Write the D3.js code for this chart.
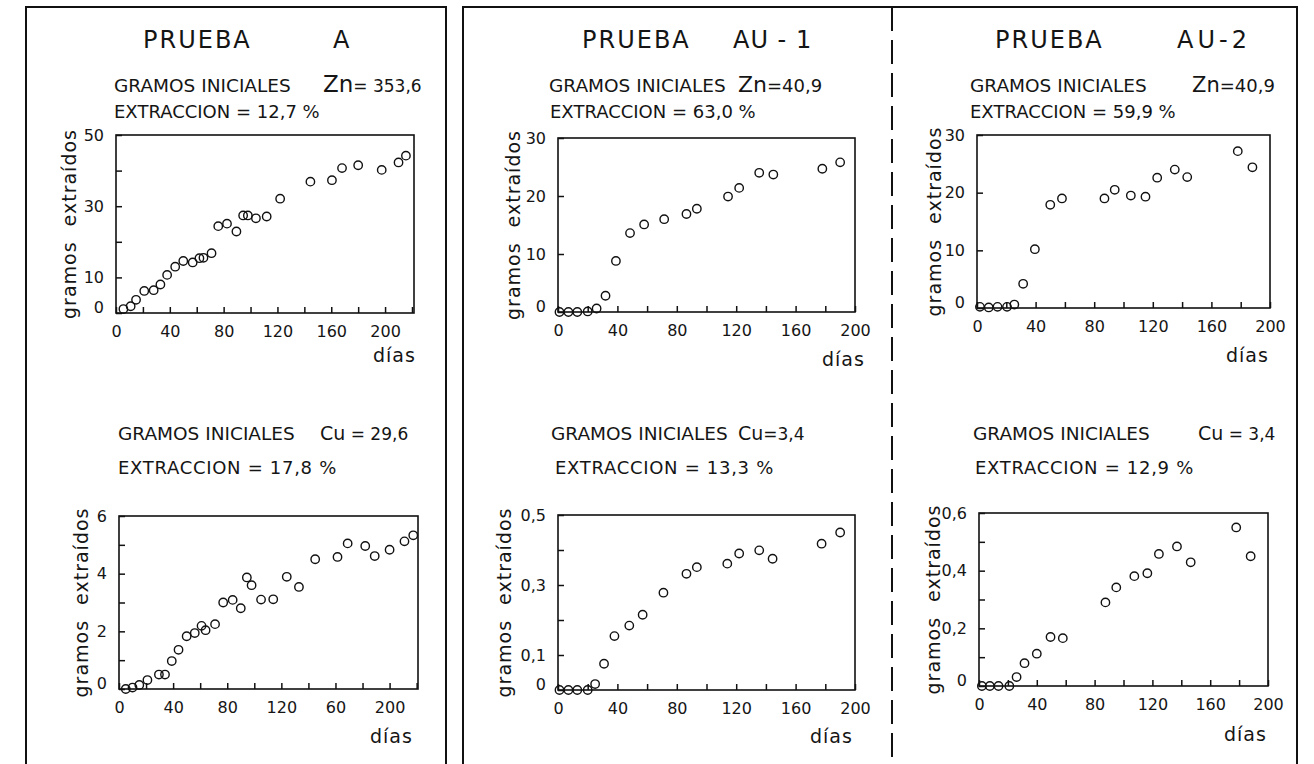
<!DOCTYPE html>
<html>
<head>
<meta charset="utf-8">
<script src="https://cdn.jsdelivr.net/npm/d3@7"></script>
<style>
  body { margin: 0; background: #fff; }
  svg text { font-family: "DejaVu Sans", sans-serif; fill: #151515; }
</style>
</head>
<body>
<svg id="chart" width="1314" height="764"></svg>
<script>
// ---- data (días, gramos extraídos) ----
const znA_dias = [5.5, 10.9, 14.9, 21, 28, 33, 38, 44, 50, 57, 62, 65, 71, 76, 82.5, 89.5, 94.5, 98, 104, 112, 122, 144.5, 160.5, 168, 180, 197.5, 210, 215.5];
const znA_g    = [1.1, 1.9, 3.7, 6.2, 6.4, 8.0, 10.7, 13.0, 14.6, 14.2, 15.4, 15.5, 16.8, 24.4, 25.1, 22.9, 27.4, 27.4, 26.6, 27.1, 32.1, 36.9, 37.3, 40.7, 41.5, 40.2, 42.3, 44.2];

const cuA_dias = [5, 10, 15, 21, 29.5, 34, 39, 44, 50, 56, 61, 64, 71, 77, 84, 90, 94.5, 98, 105, 114, 124, 133, 145, 161.5, 169, 182, 189, 200, 211, 217.5];
const cuA_g    = [0, 0.05, 0.14, 0.31, 0.5, 0.5, 0.97, 1.36, 1.83, 1.94, 2.19, 2.04, 2.25, 3.0, 3.09, 2.8, 3.87, 3.6, 3.1, 3.11, 3.89, 3.54, 4.5, 4.58, 5.05, 4.96, 4.61, 4.83, 5.12, 5.33];

const znAU1_dias = [1, 7, 13, 20, 26, 32, 39, 48.5, 58, 71.5, 86.5, 93.5, 114.5, 122, 135.5, 145, 178, 190];
const znAU1_g    = [0, 0, 0, 0.1, 0.6, 2.8, 8.8, 13.6, 15.1, 16.0, 16.9, 17.8, 19.9, 21.4, 24.0, 23.7, 24.7, 25.8];

const cuAU1_dias = [1, 7, 13, 20, 25, 31, 38, 48, 57, 71, 86.5, 93.5, 114, 122, 135.5, 144.5, 177.5, 190];
const cuAU1_g    = [0, 0, 0, 0, 0.017, 0.075, 0.154, 0.184, 0.215, 0.278, 0.332, 0.351, 0.361, 0.39, 0.399, 0.375, 0.418, 0.45];

const znAU2_dias = [2, 8, 14, 20.5, 25.5, 31.5, 39.5, 50, 58, 87, 94, 105, 115, 123, 135, 143.5, 178, 188];
const znAU2_g    = [0.2, 0.1, 0.2, 0.2, 0.6, 4.2, 10.2, 17.9, 19.0, 19.0, 20.5, 19.5, 19.3, 22.6, 24.0, 22.7, 27.2, 24.4];

const cuAU2_dias = [2, 7.5, 13.5, 21, 26, 31.5, 40, 49.5, 58, 87.5, 95, 107.5, 116.5, 124.5, 137, 146.5, 178, 188];
const cuAU2_g    = [0, 0, 0, 0, 0.031, 0.079, 0.112, 0.17, 0.166, 0.29, 0.342, 0.381, 0.391, 0.458, 0.484, 0.429, 0.55, 0.45];

// tick labels
const xTickVals   = [0, 40, 80, 120, 160, 200];
const xTickText   = ['0', '40', '80', '120', '160', '200'];
const xTickTextCuA = ['0', '40', '80', '120', '60', '200'];   // as printed
const yLabZnA  = [0, 10, 30, 50];
const yLabZnAU = [0, 10, 20, 30];
const yLabCuA  = [0, 2, 4, 6];
const yLabCuAU1 = [0, 0.1, 0.3, 0.5];
const yLabCuAU2 = [0, 0.2, 0.4, 0.6];

// ---- layout ----
const svg = d3.select('#chart');

const panels = [
  { l: 116, r: 414, t: 135, b: 313, xMax: 221.5, yMax: 50,  yStep: 10,  yLab: yLabZnA,  xs: znA_dias,  ys: znA_g,  xText: xTickText,    gx: 70,  diasX: 373, diasY: 362 },
  { l: 119, r: 418, t: 516, b: 689, xMax: 221,   yMax: 6,   yStep: 1,   yLab: yLabCuA,  xs: cuA_dias,  ys: cuA_g,  xText: xTickTextCuA, gx: 82,  diasX: 370, diasY: 743 },
  { l: 558, r: 855, t: 138, b: 312, xMax: 200,   yMax: 30,  yStep: 10,  yLab: yLabZnAU, xs: znAU1_dias, ys: znAU1_g, xText: xTickText,  gx: 514, diasX: 822, diasY: 366 },
  { l: 558, r: 855, t: 515, b: 690, xMax: 200,   yMax: 0.5, yStep: 0.1, yLab: yLabCuAU1, xs: cuAU1_dias, ys: cuAU1_g, xText: xTickText, gx: 505, diasX: 810, diasY: 743 },
  { l: 977, r: 1270, t: 135, b: 308, xMax: 200,  yMax: 30,  yStep: 10,  yLab: yLabZnAU, xs: znAU2_dias, ys: znAU2_g, xText: xTickText,  gx: 935, diasX: 1226, diasY: 362 },
  { l: 979, r: 1268, t: 513, b: 686, xMax: 200,  yMax: 0.6, yStep: 0.1, yLab: yLabCuAU2, xs: cuAU2_dias, ys: cuAU2_g, xText: xTickText, gx: 934, diasX: 1224, diasY: 741 }
];

// frames
svg.append('path').attr('d', 'M26,770V7H446V770')
  .attr('fill', 'none').attr('stroke', '#111').attr('stroke-width', 2);
svg.append('path').attr('d', 'M463,770V7H1297V770')
  .attr('fill', 'none').attr('stroke', '#111').attr('stroke-width', 2);
svg.append('line').attr('x1', 892).attr('x2', 892).attr('y1', 7).attr('y2', 764)
  .attr('stroke', '#111').attr('stroke-width', 2).attr('stroke-dasharray', '24,9');

// headers
const headers = [
  { x: 143, y: 48, size: 24, ls: 2, text: 'PRUEBA' },
  { x: 333, y: 48, size: 24, ls: 2, text: 'A' },
  { x: 582, y: 48, size: 24, ls: 2, text: 'PRUEBA' },
  { x: 733, y: 48, size: 24, ls: 1, text: 'AU - 1' },
  { x: 995, y: 48, size: 24, ls: 2, text: 'PRUEBA' },
  { x: 1177, y: 48, size: 24, ls: 4, text: 'AU-2' },

  { x: 114, y: 92, size: 18.5, ls: 0, text: 'GRAMOS INICIALES' },
  { x: 549, y: 92, size: 18.5, ls: 0, text: 'GRAMOS INICIALES' },
  { x: 970, y: 92, size: 18.5, ls: 0, text: 'GRAMOS INICIALES' },
  { x: 114, y: 118, size: 18, ls: 0, text: 'EXTRACCION = 12,7 %' },
  { x: 550, y: 118, size: 18, ls: 0, text: 'EXTRACCION = 63,0 %' },
  { x: 970, y: 118, size: 18, ls: 0, text: 'EXTRACCION = 59,9 %' },

  { x: 118, y: 440, size: 18.5, ls: 0, text: 'GRAMOS INICIALES' },
  { x: 551, y: 440, size: 18.5, ls: 0, text: 'GRAMOS INICIALES' },
  { x: 973, y: 440, size: 18.5, ls: 0, text: 'GRAMOS INICIALES' },
  { x: 118, y: 474, size: 18, ls: 0.7, text: 'EXTRACCION = 17,8 %' },
  { x: 555, y: 474, size: 18, ls: 0.7, text: 'EXTRACCION = 13,3 %' },
  { x: 975, y: 474, size: 18, ls: 0.7, text: 'EXTRACCION = 12,9 %' }
];
svg.selectAll('text.hdr').data(headers).enter().append('text')
  .attr('class', 'hdr')
  .attr('x', d => d.x).attr('y', d => d.y)
  .attr('font-size', d => d.size).attr('letter-spacing', d => d.ls)
  .text(d => d.text);

// element symbols with values
const elems = [
  { x: 323, y: 92, el: 'Zn', rest: '= 353,6', big: 23, small: 17 },
  { x: 738, y: 92, el: 'Zn', rest: '=40,9', big: 22, small: 18 },
  { x: 1192, y: 92, el: 'Zn', rest: '=40,9', big: 21, small: 18 },
  { x: 320, y: 440, el: 'Cu', rest: ' = 29,6', big: 19, small: 17 },
  { x: 738, y: 440, el: 'Cu', rest: '=3,4', big: 19, small: 17 },
  { x: 1198, y: 440, el: 'Cu', rest: ' = 3,4', big: 19, small: 17 }
];
elems.forEach(e => {
  const t = svg.append('text').attr('x', e.x).attr('y', e.y).attr('xml:space', 'preserve');
  t.append('tspan').attr('font-size', e.big).text(e.el);
  t.append('tspan').attr('font-size', e.small).text(e.rest);
});

// plots
panels.forEach(p => {
  const x = d3.scaleLinear().domain([0, p.xMax]).range([p.l, p.r]);
  const y = d3.scaleLinear().domain([0, p.yMax]).range([p.b, p.t]);
  const g = svg.append('g');

  g.append('rect').attr('x', p.l).attr('y', p.t)
    .attr('width', p.r - p.l).attr('height', p.b - p.t)
    .attr('fill', 'none').attr('stroke', '#111').attr('stroke-width', 1.6);

  const xTicks = d3.range(0, p.xMax + 0.01, 20);
  const xAxis = d3.axisBottom(x).tickValues(xTicks).tickSize(-6).tickSizeOuter(0)
    .tickPadding(13)
    .tickFormat(v => { const i = xTickVals.indexOf(v); return i < 0 ? '' : p.xText[i]; });
  const gxAxis = g.append('g').attr('transform', `translate(0,${p.b})`).call(xAxis);

  const n = Math.round(p.yMax / p.yStep);
  const yTicks = d3.range(0, n + 1).map(i => +(i * p.yStep).toFixed(3));
  const fmt = v => String(v).replace('.', ',');
  const yAxis = d3.axisLeft(y).tickValues(yTicks).tickSize(-6).tickSizeOuter(0)
    .tickPadding(12)
    .tickFormat(v => p.yLab.some(l => Math.abs(l - v) < 1e-6) ? fmt(v) : '');
  const gyAxis = g.append('g').attr('transform', `translate(${p.l},0)`).call(yAxis);

  [gxAxis, gyAxis].forEach(a => {
    a.select('.domain').remove();
    a.selectAll('.tick line').attr('stroke', '#111').attr('stroke-width', 1.5);
    a.selectAll('.tick text').attr('font-size', 16).attr('fill', '#151515')
      .attr('font-family', '"DejaVu Sans", sans-serif');
  });
  gyAxis.selectAll('.tick').filter(v => v === 0).select('text').attr('dy', '-0.05em');

  // y title
  g.append('text')
    .attr('transform', `translate(${p.gx},${(p.t + p.b) / 2}) rotate(-90)`)
    .attr('text-anchor', 'middle').attr('dominant-baseline', 'middle')
    .attr('font-size', 19).attr('letter-spacing', 1).attr('word-spacing', 8)
    .text('gramos extraídos');

  g.append('text').attr('x', p.diasX).attr('y', p.diasY)
    .attr('font-size', 19).attr('letter-spacing', 1).text('días');

  g.selectAll('circle').data(d3.zip(p.xs, p.ys)).enter().append('circle')
    .attr('cx', d => x(d[0])).attr('cy', d => y(d[1])).attr('r', 4.2)
    .attr('fill', 'none').attr('stroke', '#111').attr('stroke-width', 1.4);
});
</script>
</body>
</html>
